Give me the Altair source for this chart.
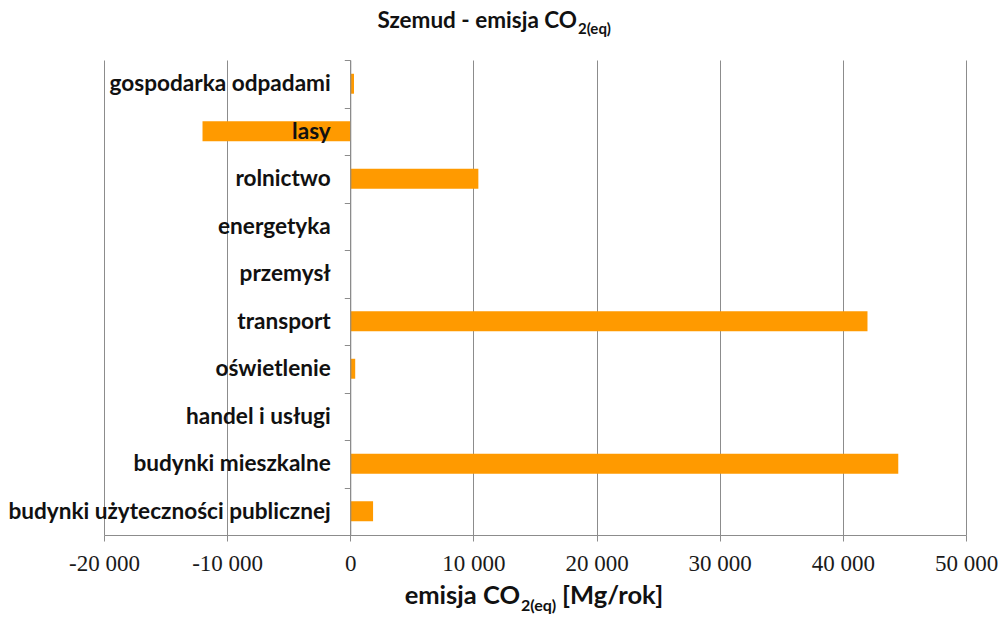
import altair as alt
import pandas as pd

# Emission sectors, listed top to bottom
categories = [
    "gospodarka odpadami",
    "lasy",
    "rolnictwo",
    "energetyka",
    "przemysł",
    "transport",
    "oświetlenie",
    "handel i usługi",
    "budynki mieszkalne",
    "budynki użyteczności publicznej",
]
# CO2(eq) emission per sector [Mg/rok]
values = [300, -12000, 10400, 0, 0, 42000, 400, 0, 44500, 1850]

x_ticks = [-20000, -10000, 0, 10000, 20000, 30000, 40000, 50000]

df = pd.DataFrame({"sektor": categories, "emisja": values})

W, H = 862, 475
LABEL_FONT = "Lato"
NUM_FONT = "Liberation Serif"
GRID = "#8c8c8c"
BAR = "#FF9A00"
INK = "#111111"

x_scale = alt.Scale(domain=[-20000, 50000], nice=False, zero=False)
y_scale = alt.Scale(domain=categories, paddingInner=0, paddingOuter=0)

bars = (
    alt.Chart(df)
    .mark_bar(color=BAR, height=alt.RelativeBandSize(0.42))
    .encode(
        x=alt.X(
            "emisja:Q",
            scale=x_scale,
            axis=alt.Axis(
                values=x_ticks,
                title="",
                grid=True,
                gridColor=GRID,
                gridWidth=1,
                domainColor=GRID,
                tickColor=GRID,
                tickSize=6,
                labelFlush=False,
                labelFont=NUM_FONT,
                labelFontSize=23,
                labelColor="#1a1a1a",
                labelPadding=11,
                labelExpr="(datum.value < 0 ? '-' : '') + (datum.value == 0 ? '0' : format(abs(datum.value) / 1000, 'd') + ' 000')",
            ),
        ),
        y=alt.Y(
            "sektor:N",
            scale=y_scale,
            sort=categories,
            axis=alt.Axis(
                title="",
                orient="left",
                offset=-(W * 2 / 7),
                zindex=1,
                tickBand="extent",
                tickSize=6,
                tickColor=GRID,
                domainColor=GRID,
                labelFont=LABEL_FONT,
                labelFontWeight="bold",
                labelFontSize=22.6,
                labelColor=INK,
                labelPadding=14,
                labelLimit=400,
                grid=False,
            ),
        ),
    )
)

# Title and x-axis title with subscripted "2(eq)"
title_main = alt.Chart(pd.DataFrame({"t": ["Szemud - emisja CO"]})).mark_text(
    font=LABEL_FONT, fontWeight="bold", fontSize=22.5, align="right",
    baseline="alphabetic", color=INK
).encode(text="t:N", x=alt.value(473), y=alt.value(-32))

title_sub = alt.Chart(pd.DataFrame({"t": ["2(eq)"]})).mark_text(
    font=LABEL_FONT, fontWeight="bold", fontSize=15, align="left",
    baseline="alphabetic", color=INK
).encode(text="t:N", x=alt.value(474), y=alt.value(-26))

xt_main = alt.Chart(pd.DataFrame({"t": ["emisja CO"]})).mark_text(
    font=LABEL_FONT, fontWeight="bold", fontSize=25.5, align="right",
    baseline="alphabetic", color=INK
).encode(text="t:N", x=alt.value(416), y=alt.value(544))

xt_sub = alt.Chart(pd.DataFrame({"t": ["2(eq)"]})).mark_text(
    font=LABEL_FONT, fontWeight="bold", fontSize=16, align="left",
    baseline="alphabetic", color=INK
).encode(text="t:N", x=alt.value(417), y=alt.value(551))

xt_unit = alt.Chart(pd.DataFrame({"t": ["[Mg/rok]"]})).mark_text(
    font=LABEL_FONT, fontWeight="bold", fontSize=25.5, align="left",
    baseline="alphabetic", color=INK
).encode(text="t:N", x=alt.value(458), y=alt.value(544))

chart = (
    alt.layer(bars, title_main, title_sub, xt_main, xt_sub, xt_unit)
    .properties(
        width=W,
        height=H,
        autosize=alt.AutoSizeParams(type="none"),
        padding={"left": 104, "top": 60, "right": 37, "bottom": 83},
        background="white",
    )
    .configure_view(stroke=None)
)

chart.save("out.html", embed_options={"renderer": "svg", "actions": False})
